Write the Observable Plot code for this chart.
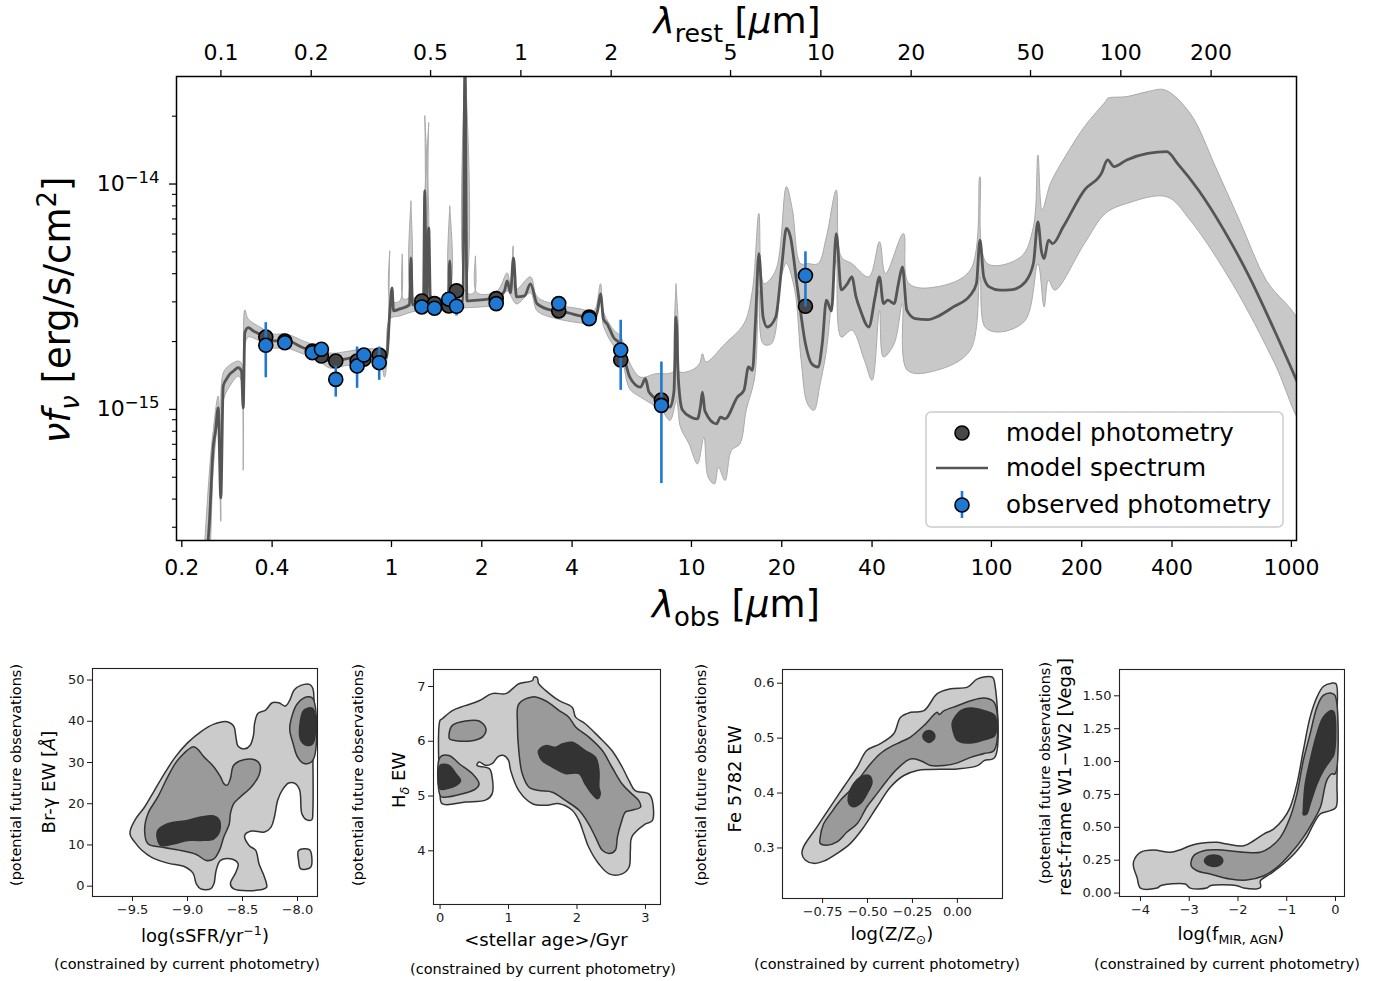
<!DOCTYPE html>
<html><head><meta charset="utf-8">
<script src="https://cdn.jsdelivr.net/npm/d3@7"></script>
<script src="https://cdn.jsdelivr.net/npm/@observablehq/plot@0.6"></script>
<style>
body{margin:0;background:#fff;}
#fig{position:relative;width:1392px;height:981px;overflow:hidden;font-family:"DejaVu Sans",sans-serif;}
</style></head><body><div id="fig"></div>
<script>
// ---------------- main SED data ----------------
const redshift = 1.7;
const obsTicks = [0.2,0.4,1,2,4,10,20,40,100,200,400,1000];
const restTicks = [0.1,0.2,0.5,1,2,5,10,20,50,100,200];
const yMajorTicks = [1e-15,1e-14];
const yMinorTicks = [3e-16,4e-16,5e-16,6e-16,7e-16,8e-16,9e-16,2e-15,3e-15,4e-15,5e-15,6e-15,7e-15,8e-15,9e-15,2e-14];
const fluxUnit = 1e-15; // erg/s/cm2

const specWave = [0.238,0.2473,0.2544,0.259,0.2644,0.2698,0.2748,0.2818,0.2891,0.2974,0.3083,0.3162,0.3204,0.3243,0.3329,0.3467,0.3639,0.3831,0.4034,0.4467,0.5078,0.5623,0.6229,0.6902,0.8047,0.9141,0.9624,0.987,1.004,1.016,1.066,1.148,1.161,1.175,1.212,1.278,1.291,1.308,1.331,1.349,1.457,1.543,1.564,1.585,1.731,1.758,1.785,1.981,2.25,2.38,2.43,2.492,2.551,2.61,2.776,2.906,3.059,3.475,3.852,4.266,4.725,4.862,4.975,5.091,5.236,5.508,5.799,6.229,6.761,7.025,7.216,7.943,8.487,8.745,8.88,9.052,9.333,9.977,10.47,10.72,10.88,11.09,12.12,12.5,12.94,14.23,14.97,15.49,15.97,16.35,16.78,17.33,17.89,19.1,20.04,20.72,21.38,22.46,23.99,25.16,26.42,27.29,28.18,29.29,30.39,31.57,33.11,34.25,35.37,36.59,38.99,40.96,42.34,43.65,45.15,47.39,48.98,50.51,52.24,55.72,61.43,65.58,74.64,84.98,89.13,91.56,94.26,98.33,106.7,117.5,129.7,138,142.9,146.6,149.9,154.9,160.1,173.5,204.2,232.6,244,256.3,282.5,332.1,384.3,416.9,489.8,595.7,724.1,879.7,1072];
const specFlux = [0.1725,0.3189,0.6753,0.8008,1.016,0.4047,1.269,1.363,1.435,1.48,1.531,1.48,1.016,2.183,2.305,2.228,2.154,2.053,2.012,2.012,1.878,1.785,1.639,1.668,1.725,1.725,1.695,2.679,3.46,2.735,2.792,2.908,4.704,2.908,2.938,2.938,9.338,2.969,6.394,2.969,2.969,2.969,4.562,2.969,3.029,35.3,3.029,3.061,3.133,3.357,3.718,3.289,4.704,3.156,3.189,3.606,2.938,2.735,2.688,2.598,2.553,2.735,3.254,2.519,2.394,2.081,1.945,1.391,1.256,1.368,1.194,1.078,1.024,1.206,2.572,1.336,0.993,0.924,0.908,1.034,1.194,0.983,0.863,0.924,0.908,1.134,1.218,1.542,1.49,2.469,4.916,2.572,2.321,2.572,4.437,6.348,5.833,3.616,1.957,1.595,1.542,1.957,3.051,2.735,6.03,3.392,3.616,3.873,3.156,2.754,2.321,3.156,3.873,2.947,3.051,2.947,3.616,4.29,2.754,2.527,2.501,2.572,2.849,3.211,3.616,5.639,3.873,3.497,3.381,3.402,3.68,4.437,6.798,5.089,4.67,5.639,5.445,6.459,9.404,11.15,12.79,11.94,12.79,13.68,13.92,12.35,9.404,6.246,3.873,2.228,1.23];

const bandUpperWave = [0.238,0.2473,0.2544,0.2644,0.2698,0.2748,0.2891,0.3083,0.3162,0.3204,0.3243,0.3329,0.3639,0.4034,0.4467,0.5078,0.5623,0.6229,0.6902,0.8047,0.9141,0.9624,0.9795,0.987,0.9947,1.066,1.086,1.096,1.148,1.161,1.175,1.278,1.291,1.308,1.331,1.349,1.543,1.564,1.585,1.731,1.758,1.785,1.884,1.905,1.928,2.25,2.43,2.492,2.545,2.59,2.906,3.059,3.475,4.266,4.725,4.975,5.091,5.508,5.799,6.229,6.761,7.586,8.745,8.88,9.052,9.977,10.63,10.88,11.18,12.94,14.97,15.97,16.78,17.45,19.1,20.73,21.71,23.09,24.37,26.42,28.18,30.39,31.57,34.25,38.99,42.34,44.35,50.89,53.09,65.58,84.98,91.56,96.75,125.4,138,142.9,147.6,157.3,173.5,204.2,239.9,244,282.5,332.1,378.2,459.5,558.1,678.3,824.1,1072];
const bandUpperFlux = [0.2469,0.5318,0.8008,1.146,0.7229,1.45,1.574,1.639,1.606,1.336,2.763,2.519,2.321,2.161,2.161,2.012,1.911,1.779,1.797,1.854,1.854,1.834,3.029,5.053,3.029,3.029,4.9,3.092,3.156,8.429,3.156,3.156,20.12,3.221,18.73,3.221,3.221,8.009,3.221,3.289,35.3,3.289,3.289,4.801,3.289,3.357,4.035,3.532,5.318,3.392,3.873,3.156,2.938,2.792,2.735,3.606,2.706,2.251,2.117,1.606,1.391,1.439,1.48,3.616,1.48,1.49,1.595,1.767,1.623,1.957,2.401,3.381,7.403,3.616,4.148,9.727,7.664,4.437,4.437,4.437,5.833,9.404,4.753,4.437,3.873,5.541,4.006,6.03,3.616,3.497,4.148,10.78,4.437,4.753,6.459,13.46,7.664,10.06,12.79,17.97,23.22,24.01,24.43,25.71,26.17,20.6,11.94,6.681,3.744,2.35];
const bandLowerWave = [0.238,0.2473,0.2544,0.2644,0.2698,0.2748,0.2891,0.3083,0.3162,0.3204,0.3243,0.3329,0.3639,0.4034,0.4467,0.5078,0.5623,0.6229,0.6902,0.8047,0.9141,0.9477,0.9624,0.987,1.066,1.212,1.457,1.731,1.981,2.25,2.43,2.61,2.906,3.059,3.475,4.266,4.725,4.975,5.091,5.508,5.799,6.229,6.761,7.943,8.487,8.913,9.191,9.817,10.47,11.0,11.37,11.93,12.3,12.94,13.59,14.5,15.22,16.25,16.78,17.33,18.48,20.04,20.72,22.1,23.21,24.37,25.59,26.85,28.18,30.39,31.57,34.25,37.72,40.02,42.34,43.65,47.39,50.51,52.48,65.58,84.98,91.56,95.21,106.7,129.7,142.9,149.9,154.9,162.7,204.2,239.9,282.5,384.3,459.5,635.8,879.7,1072];
const bandLowerFlux = [0.1406,0.2118,0.5318,0.887,0.3189,1.089,1.269,1.406,1.336,0.5373,1.911,2.095,2.012,1.873,1.873,1.761,1.673,1.526,1.557,1.606,1.606,1.391,1.557,2.519,2.598,2.735,2.735,2.82,2.849,2.938,3.357,2.938,3.289,2.735,2.546,2.419,2.394,3.029,2.345,1.911,1.779,1.231,1.134,0.99,0.894,1.089,0.834,0.703,0.573,0.753,0.5002,0.467,0.5541,0.4835,0.6574,0.703,0.99,1.391,3.381,1.957,1.957,4.006,4.437,3.381,1.651,1.059,0.99,1.299,1.829,4.594,2.095,2.245,1.651,1.346,2.754,1.708,1.957,2.947,1.49,1.49,1.829,3.873,2.321,2.206,2.486,4.437,2.849,3.744,3.381,5.445,7.403,8.199,8.781,6.918,3.616,1.6,0.89];

const photWave = [0.381,0.441,0.545,0.584,0.652,0.768,0.809,0.910,1.262,1.391,1.552,1.647,2.234,3.611,4.560,5.81,7.94,23.99];
const obsFlux  = [1.925,1.977,1.785,1.848,1.359,1.557,1.743,1.611,2.849,2.811,3.082,2.869,2.947,2.947,2.527,1.834,1.042,3.925];
const obsLow   = [1.382,1.92,1.74,1.80,1.134,1.240,1.70,1.346,2.78,2.74,3.0,2.598,2.87,2.87,2.46,1.215,0.469,2.849];
const obsHigh  = [2.426,2.04,1.83,1.90,1.557,1.892,1.79,1.892,2.92,2.88,3.16,3.029,3.02,3.02,2.59,2.486,1.623,5.002];
const modelFlux = [2.095,2.012,1.816,1.725,1.639,1.639,1.668,1.743,3.029,2.947,2.878,3.357,3.101,2.735,2.572,1.656,1.100,2.869];

// ---------------- posterior contour data ----------------
const ssfrLight = [[-9.52,13.53],[-9.47,16.37],[-9.39,19.21],[-9.30,23.26],[-9.21,27.31],[-9.11,31.36],[-9.00,34.76],[-8.88,37.44],[-8.76,39.30],[-8.64,39.87],[-8.58,38.82],[-8.56,36.22],[-8.54,33.95],[-8.48,33.31],[-8.43,34.20],[-8.40,36.63],[-8.39,39.47],[-8.36,41.90],[-8.29,42.71],[-8.23,44.49],[-8.17,44.49],[-8.11,43.68],[-8.07,45.14],[-8.03,47.57],[-7.97,48.70],[-7.89,48.95],[-7.86,47.97],[-7.86,32.98],[-7.86,18.40],[-7.87,16.13],[-7.92,16.13],[-7.96,17.59],[-7.98,23.26],[-8.02,24.88],[-8.08,25.04],[-8.14,23.26],[-8.18,20.83],[-8.21,16.77],[-8.24,14.34],[-8.30,13.13],[-8.42,13.37],[-8.48,12.32],[-8.44,9.89],[-8.38,8.67],[-8.35,5.43],[-8.30,2.19],[-8.28,-0.24],[-8.32,-0.81],[-8.58,-0.65],[-8.61,0.57],[-8.56,3.40],[-8.54,5.43],[-8.61,6.65],[-8.70,6.24],[-8.74,3.81],[-8.76,0.57],[-8.79,-0.65],[-8.88,-0.65],[-8.92,0.57],[-8.95,3.16],[-9.03,4.78],[-9.18,5.59],[-9.33,7.05],[-9.42,8.83],[-9.48,10.70],[-9.52,12.32]];
const ssfrLightIsland = [[-7.99,8.67],[-7.89,8.83],[-7.87,7.05],[-7.88,4.62],[-7.97,4.21],[-7.99,6.24]];
const ssfrMid = [[-9.36,17.59],[-9.27,21.64],[-9.18,26.50],[-9.09,30.54],[-8.94,33.79],[-8.85,31.36],[-8.76,28.93],[-8.70,26.50],[-8.67,24.88],[-8.64,24.47],[-8.61,26.09],[-8.58,29.34],[-8.48,30.71],[-8.38,30.54],[-8.34,29.34],[-8.35,26.90],[-8.42,24.07],[-8.52,21.64],[-8.58,20.02],[-8.61,17.59],[-8.62,15.15],[-8.67,11.91],[-8.71,8.67],[-8.76,6.65],[-8.83,6.24],[-8.92,7.70],[-9.06,8.67],[-9.24,9.48],[-9.36,10.29],[-9.39,13.53]];
const ssfrMidTop = [[-8.06,40.28],[-8.00,44.33],[-7.91,45.95],[-7.86,45.54],[-7.86,30.54],[-7.94,29.74],[-8.00,31.36],[-8.04,34.60],[-8.07,37.84]];
const ssfrDark = [[-9.27,11.10],[-9.27,13.53],[-9.18,15.15],[-9.00,15.96],[-8.88,16.77],[-8.76,17.02],[-8.71,15.96],[-8.71,13.13],[-8.76,11.51],[-8.88,11.10],[-9.00,11.10],[-9.12,10.29],[-9.24,9.89]];
const ssfrDarkTop = [[-7.98,38.65],[-7.94,42.71],[-7.86,43.11],[-7.86,34.60],[-7.92,34.20],[-7.97,35.41]];

const ageLight = [[0,6.38],[0.03,6.41],[0.18,6.56],[0.37,6.65],[0.57,6.74],[0.76,6.87],[0.96,6.87],[1.06,6.96],[1.15,7.05],[1.35,7.11],[1.37,7.17],[1.42,7.16],[1.44,7.05],[1.54,6.93],[1.74,6.74],[1.93,6.62],[1.98,6.44],[2.12,6.32],[2.32,6.08],[2.51,5.83],[2.66,5.53],[2.76,5.28],[2.85,5.10],[3.05,5.04],[3.10,4.92],[3.10,4.55],[3.00,4.49],[2.80,4.25],[2.78,4.01],[2.76,3.70],[2.66,3.58],[2.47,3.58],[2.32,3.76],[2.17,4.07],[2.10,4.31],[2.03,4.55],[1.93,4.74],[1.74,4.86],[1.54,4.83],[1.35,4.86],[1.15,5.10],[1.03,5.47],[1.00,5.65],[0.93,5.74],[0.85,5.72],[0.76,5.59],[0.67,5.56],[0.57,5.62],[0.54,5.56],[0.72,5.50],[0.76,5.35],[0.76,5.04],[0.67,4.93],[0.37,4.89],[0.03,4.86],[0,5.10]];
const ageMidTopLeft = [[0.13,6.11],[0.18,6.29],[0.37,6.37],[0.57,6.37],[0.67,6.23],[0.62,6.08],[0.47,6.01],[0.23,6.01],[0.14,6.04]];
const ageMidLeft = [[0,5.71],[0.13,5.74],[0.28,5.59],[0.47,5.41],[0.57,5.22],[0.52,5.13],[0.33,5.04],[0.03,4.98],[0,5.01]];
const ageMidRight = [[1.15,6.68],[1.35,6.81],[1.54,6.74],[1.74,6.56],[1.88,6.44],[1.98,6.26],[2.17,6.08],[2.37,5.83],[2.51,5.53],[2.66,5.22],[2.80,5.04],[2.90,4.92],[2.93,4.80],[2.80,4.74],[2.71,4.71],[2.64,4.49],[2.59,4.25],[2.56,4.01],[2.47,3.95],[2.37,4.01],[2.27,4.25],[2.17,4.49],[2.03,4.74],[1.83,4.92],[1.64,5.07],[1.44,5.10],[1.30,5.16],[1.20,5.41],[1.15,5.83],[1.13,6.32]];
const ageDarkLeft = [[0,5.56],[0.13,5.56],[0.23,5.41],[0.30,5.28],[0.23,5.19],[0.08,5.13],[0,5.13]];
const ageDarkRight = [[1.44,5.83],[1.54,5.92],[1.69,5.89],[1.78,5.95],[1.93,5.98],[2.12,5.83],[2.27,5.71],[2.32,5.47],[2.32,5.16],[2.34,5.04],[2.30,4.95],[2.22,5.04],[2.12,5.22],[2.03,5.41],[1.83,5.41],[1.64,5.53],[1.49,5.65],[1.44,5.77]];

const metLight = [[-0.856,0.302],[-0.782,0.338],[-0.707,0.375],[-0.633,0.411],[-0.558,0.447],[-0.503,0.478],[-0.428,0.490],[-0.354,0.508],[-0.316,0.538],[-0.261,0.547],[-0.186,0.550],[-0.112,0.581],[-0.037,0.590],[0.056,0.593],[0.112,0.608],[0.195,0.611],[0.208,0.599],[0.208,0.465],[0.149,0.459],[0.112,0.450],[0,0.444],[-0.149,0.443],[-0.223,0.441],[-0.298,0.432],[-0.372,0.411],[-0.447,0.375],[-0.521,0.338],[-0.596,0.308],[-0.670,0.290],[-0.744,0.276],[-0.800,0.272],[-0.847,0.278],[-0.865,0.290]];
const metMid = [[-0.763,0.320],[-0.744,0.344],[-0.707,0.362],[-0.651,0.387],[-0.596,0.405],[-0.540,0.429],[-0.484,0.453],[-0.428,0.472],[-0.372,0.484],[-0.316,0.493],[-0.261,0.502],[-0.186,0.523],[-0.112,0.547],[-0.102,0.543],[-0.074,0.550],[0,0.559],[0.074,0.568],[0.149,0.573],[0.205,0.565],[0.205,0.478],[0.149,0.472],[0.074,0.465],[0,0.455],[-0.074,0.450],[-0.149,0.450],[-0.205,0.459],[-0.261,0.462],[-0.335,0.444],[-0.391,0.423],[-0.447,0.399],[-0.503,0.375],[-0.558,0.344],[-0.614,0.329],[-0.670,0.311],[-0.726,0.305],[-0.763,0.308]];
const metDarkLow = [[-0.607,0.393],[-0.577,0.417],[-0.540,0.429],[-0.493,0.432],[-0.475,0.420],[-0.503,0.399],[-0.540,0.381],[-0.577,0.375],[-0.603,0.381]];
const metDarkSpot = [[-0.192,0.503],[-0.181,0.511],[-0.158,0.514],[-0.136,0.511],[-0.125,0.503],[-0.136,0.496],[-0.158,0.492],[-0.181,0.496]];
const metDarkHigh = [[-0.028,0.529],[0.019,0.550],[0.074,0.555],[0.149,0.550],[0.208,0.541],[0.208,0.505],[0.149,0.497],[0.074,0.491],[0,0.496],[-0.022,0.511]];

const agnLight = [[-4.14,0.241],[-4.00,0.310],[-3.73,0.327],[-3.39,0.310],[-3.18,0.330],[-2.98,0.360],[-2.77,0.378],[-2.43,0.386],[-2.23,0.373],[-1.88,0.360],[-1.68,0.398],[-1.47,0.449],[-1.27,0.487],[-1.07,0.563],[-0.93,0.652],[-0.79,0.830],[-0.66,1.084],[-0.52,1.338],[-0.38,1.490],[-0.25,1.571],[-0.08,1.596],[0.01,1.591],[0.03,1.338],[0.03,0.830],[0.01,0.652],[-0.11,0.627],[-0.31,0.602],[-0.45,0.525],[-0.59,0.424],[-0.79,0.322],[-1.07,0.221],[-1.34,0.145],[-1.54,0.094],[-1.54,0.043],[-1.88,0.038],[-2.02,0.056],[-2.57,0.056],[-2.64,0.038],[-2.98,0.038],[-3.08,0.069],[-3.39,0.069],[-3.59,0.056],[-3.66,0.038],[-4.00,0.038],[-4.07,0.119],[-4.14,0.195]];
const agnMid = [[-2.96,0.208],[-2.91,0.284],[-2.70,0.322],[-2.43,0.330],[-1.88,0.310],[-1.54,0.310],[-1.34,0.348],[-1.13,0.424],[-0.93,0.576],[-0.79,0.754],[-0.66,1.008],[-0.52,1.211],[-0.38,1.414],[-0.25,1.503],[-0.08,1.520],[-0.01,1.503],[-0.01,0.906],[-0.08,0.906],[-0.18,0.855],[-0.31,0.652],[-0.45,0.551],[-0.66,0.424],[-0.93,0.297],[-1.20,0.195],[-1.47,0.132],[-1.82,0.099],[-2.16,0.107],[-2.57,0.145],[-2.84,0.170]];
const agnDarkLow = [[-2.69,0.246],[-2.63,0.277],[-2.50,0.289],[-2.36,0.277],[-2.31,0.246],[-2.36,0.216],[-2.50,0.203],[-2.63,0.216]];
const agnDarkHigh = [[-0.66,0.627],[-0.62,0.830],[-0.52,1.008],[-0.38,1.211],[-0.25,1.338],[-0.08,1.388],[-0.03,1.376],[-0.03,1.058],[-0.11,1.008],[-0.25,0.931],[-0.38,0.830],[-0.52,0.678],[-0.59,0.602],[-0.66,0.596]];

// ---------------- helpers ----------------
const fig = document.getElementById("fig");
const FONT = "DejaVu Sans";
const minus = s => String(s).replace("-", "−");

function place(el, left, top) {
  el.style.position = "absolute";
  el.style.left = left + "px";
  el.style.top = top + "px";
  el.style.maxWidth = "none";
  fig.appendChild(el);
}
function richText(sel, x, y, parts, size, opts = {}) {
  const t = sel.append("text").attr("x", x).attr("y", y).attr("font-size", size)
    .attr("font-family", FONT).attr("text-anchor", opts.anchor || "middle").attr("fill", "black");
  if (opts.rotate) t.attr("transform", `rotate(-90 ${x} ${y})`);
  let shift = 0;
  for (const p of parts) {
    const s = t.append("tspan").text(p.t);
    const target = p.sub ? size * 0.24 : p.sup ? -size * 0.38 : 0;
    if (target !== shift) { s.attr("dy", target - shift); shift = target; }
    if (p.sub || p.sup) s.attr("font-size", size * 0.7);
    if (p.i) s.attr("font-style", "italic");
  }
  return t;
}

// ---------------- main SED panel ----------------
const spec = specWave.map((w, i) => ({w, f: specFlux[i] * fluxUnit}));
const band = [
  ...bandUpperWave.map((w, i) => ({w, f: bandUpperFlux[i] * fluxUnit})),
  ...bandLowerWave.map((w, i) => ({w, f: bandLowerFlux[i] * fluxUnit})).reverse()
];
const phot = photWave.map((w, i) => ({
  w, obs: obsFlux[i] * fluxUnit, lo: obsLow[i] * fluxUnit, hi: obsHigh[i] * fluxUnit, mod: modelFlux[i] * fluxUnit
}));
const opz = 1 + redshift;
const blue = "#1f78d2";

const main = Plot.plot({
  width: 1392, height: 640,
  marginLeft: 176, marginRight: 96, marginTop: 76, marginBottom: 100,
  style: {fontFamily: FONT, fontSize: "22px", color: "black", background: "white"},
  x: {type: "log", domain: [0.192, 1040]},
  y: {type: "log", domain: [2.62e-16, 3.0e-14]},
  marks: [
    Plot.line(band, {x: "w", y: "f", fill: "#c8c8c8", stroke: "#aaaaaa", strokeWidth: 1, curve: "catmull-rom", clip: true}),
    Plot.line(spec, {x: "w", y: "f", stroke: "#555555", strokeWidth: 2.8, curve: "monotone-x", clip: true}),
    Plot.dot(phot, {x: "w", y: "mod", r: 7, fill: "#474747", stroke: "black", strokeWidth: 1.6}),
    Plot.ruleX(phot, {x: "w", y1: "lo", y2: "hi", stroke: blue, strokeWidth: 2.6}),
    Plot.dot(phot, {x: "w", y: "obs", r: 7, fill: blue, stroke: "black", strokeWidth: 1.6}),
    Plot.frame({stroke: "black", strokeWidth: 1.5}),
    Plot.axisX({anchor: "bottom", ticks: obsTicks, tickFormat: () => "", tickSize: 7, label: null, strokeWidth: 1.3}),
    Plot.text(obsTicks, {x: d => d, text: d => String(d), frameAnchor: "bottom", lineAnchor: "middle", dy: 27, fontSize: 22}),
    Plot.axisX({anchor: "top", ticks: restTicks.map(r => r * opz), tickFormat: () => "", tickSize: 7, label: null, strokeWidth: 1.3}),
    Plot.text(restTicks, {x: r => r * opz, text: r => String(r), frameAnchor: "top", lineAnchor: "middle", dy: -24, fontSize: 22}),
    Plot.axisY({anchor: "left", ticks: yMajorTicks, tickFormat: d => "10^" + Math.round(Math.log10(d)), tickSize: 7, tickPadding: 10, label: null, strokeWidth: 1.3}),
    Plot.axisY({anchor: "left", ticks: yMinorTicks, tickFormat: () => "", tickSize: 4, label: null, strokeWidth: 1.1})
  ]
});
place(main, 0, 0);
{
  const s = d3.select(main);
  // render the power-of-ten tick labels with a raised exponent
  s.selectAll("text").each(function () {
    const txt = this.textContent;
    if (!/^10\^-?\d+$/.test(txt)) return;
    const exp = txt.slice(3).replace("-", "−");
    const el = d3.select(this);
    el.text(null);
    el.append("tspan").text("10");
    el.append("tspan").attr("dy", -8).attr("font-size", 16.5).text(exp);
  });
  richText(s, 736, 617, [{t: "λ", i: 1}, {t: "obs", sub: 1}, {t: " ["}, {t: "µ", i: 1}, {t: "m]"}], 37);
  richText(s, 737, 33, [{t: "λ", i: 1}, {t: "rest", sub: 1}, {t: " ["}, {t: "µ", i: 1}, {t: "m]"}], 36);
  richText(s, 70, 310, [{t: "ν", i: 1}, {t: "f", i: 1}, {t: "ν", sub: 1, i: 1}, {t: " [erg/s/cm"}, {t: "2", sup: 1}, {t: "]"}], 37, {rotate: true});
  // legend
  const lg = s.append("g");
  lg.append("rect").attr("x", 926).attr("y", 412).attr("width", 357).attr("height", 115).attr("rx", 5)
    .attr("fill", "white").attr("fill-opacity", 0.85).attr("stroke", "#cccccc").attr("stroke-width", 1.5);
  lg.append("circle").attr("cx", 962).attr("cy", 433).attr("r", 7).attr("fill", "#474747").attr("stroke", "black").attr("stroke-width", 1.6);
  lg.append("line").attr("x1", 936).attr("x2", 988).attr("y1", 468).attr("y2", 468).attr("stroke", "#555555").attr("stroke-width", 2.6);
  lg.append("line").attr("x1", 962).attr("x2", 962).attr("y1", 491).attr("y2", 518).attr("stroke", blue).attr("stroke-width", 2.6);
  lg.append("circle").attr("cx", 962).attr("cy", 505).attr("r", 7).attr("fill", blue).attr("stroke", "black").attr("stroke-width", 1.6);
  const texts = ["model photometry", "model spectrum", "observed photometry"];
  [441, 476, 513].forEach((y, i) => lg.append("text").attr("x", 1006).attr("y", y).attr("font-size", 24.5)
    .attr("text-anchor", "start").attr("font-family", FONT).attr("fill", "black").text(texts[i]));
}

// ---------------- posterior panels ----------------
const levelFill = {light: "#cbcbcb", mid: "#9a9a9a", dark: "#333333"};
function makePanel(p) {
  const rows = [];
  p.shapes.forEach((s, k) => s.pts.forEach(([x, y]) => rows.push({x, y, id: k, level: s.level})));
  const marks = ["light", "mid", "dark"].map(lev =>
    Plot.line(rows.filter(d => d.level === lev), {x: "x", y: "y", z: "id", fill: levelFill[lev], stroke: "#333333", strokeWidth: 1.5, curve: "catmull-rom-closed", clip: true}));
  marks.push(Plot.frame({stroke: "#222", strokeWidth: 1.1}));
  marks.push(Plot.axisX({anchor: "bottom", ticks: p.xticks, tickFormat: p.xfmt, tickSize: 5, tickPadding: 3, label: null}));
  marks.push(Plot.axisY({anchor: "left", ticks: p.yticks, tickFormat: p.yfmt, tickSize: 5, tickPadding: 3, label: null}));
  const el = Plot.plot({
    width: p.w, height: 341,
    marginLeft: p.ml, marginRight: p.mr, marginTop: p.mt, marginBottom: p.mb,
    style: {fontFamily: FONT, fontSize: "13px", color: "#1a1a1a", background: "white"},
    x: {domain: p.xdom}, y: {domain: p.ydom},
    marks
  });
  place(el, p.left, 640);
  const s = d3.select(el);
  richText(s, p.xl[0], p.xl[1], p.xlabel, 18);
  richText(s, p.cap[0], p.cap[1], [{t: "(constrained by current photometry)"}], 14.5);
  richText(s, p.yl[0], p.yl[1], p.ylabel, 18, {rotate: true});
  richText(s, p.pot[0], p.pot[1], [{t: "(potential future observations)"}], 14.5, {rotate: true});
}

makePanel({
  left: 0, w: 345, ml: 92, mr: 28, mt: 28, mb: 85,
  xdom: [-9.864, -7.818], ydom: [-2.5, 52.8],
  xticks: [-9.5, -9.0, -8.5, -8.0], xfmt: d => minus(d.toFixed(1)),
  yticks: [0, 10, 20, 30, 40, 50], yfmt: d => String(d),
  shapes: [
    {level: "light", pts: ssfrLight}, {level: "light", pts: ssfrLightIsland},
    {level: "mid", pts: ssfrMid}, {level: "mid", pts: ssfrMidTop},
    {level: "dark", pts: ssfrDark}, {level: "dark", pts: ssfrDarkTop}
  ],
  xlabel: [{t: "log(sSFR/yr"}, {t: "−1", sup: 1}, {t: ")"}], xl: [205, 302], cap: [187, 329],
  ylabel: [{t: "Br-γ EW ["}, {t: "Å", i: 1}, {t: "]"}], yl: [55, 142], pot: [21, 135]
});
makePanel({
  left: 345, w: 345, ml: 88, mr: 30, mt: 29, mb: 77,
  xdom: [-0.096, 3.22], ydom: [3.02, 7.31],
  xticks: [0, 1, 2, 3], xfmt: d => String(d),
  yticks: [4, 5, 6, 7], yfmt: d => String(d),
  shapes: [
    {level: "light", pts: ageLight},
    {level: "mid", pts: ageMidTopLeft}, {level: "mid", pts: ageMidLeft}, {level: "mid", pts: ageMidRight},
    {level: "dark", pts: ageDarkLeft}, {level: "dark", pts: ageDarkRight}
  ],
  xlabel: [{t: "<stellar age>/Gyr"}], xl: [201, 306], cap: [198, 334],
  ylabel: [{t: "H"}, {t: "δ", sub: 1, i: 1}, {t: " EW"}], yl: [60, 140], pot: [18, 135]
});
makePanel({
  left: 690, w: 345, ml: 92, mr: 33, mt: 29, mb: 83,
  xdom: [-0.973, 0.251], ydom: [0.208, 0.625],
  xticks: [-0.75, -0.5, -0.25, 0], xfmt: d => minus(d.toFixed(2)),
  yticks: [0.3, 0.4, 0.5, 0.6], yfmt: d => d.toFixed(1),
  shapes: [
    {level: "light", pts: metLight},
    {level: "mid", pts: metMid},
    {level: "dark", pts: metDarkLow}, {level: "dark", pts: metDarkSpot}, {level: "dark", pts: metDarkHigh}
  ],
  xlabel: [{t: "log(Z/Z"}, {t: "⊙", sub: 1}, {t: ")"}], xl: [202, 300], cap: [197, 329],
  ylabel: [{t: "Fe 5782 EW"}], yl: [51, 139], pot: [16, 135]
});
makePanel({
  left: 1035, w: 357, ml: 84, mr: 48, mt: 29, mb: 85,
  xdom: [-4.43, 0.185], ydom: [-0.026, 1.70],
  xticks: [-4, -3, -2, -1, 0], xfmt: d => minus(String(d)),
  yticks: [0, 0.25, 0.5, 0.75, 1.0, 1.25, 1.5], yfmt: d => d.toFixed(2),
  shapes: [
    {level: "light", pts: agnLight},
    {level: "mid", pts: agnMid},
    {level: "dark", pts: agnDarkLow}, {level: "dark", pts: agnDarkHigh}
  ],
  xlabel: [{t: "log(f"}, {t: "MIR, AGN", sub: 1}, {t: ")"}], xl: [196, 300], cap: [192, 329],
  ylabel: [{t: "rest-frame W1−W2 [Vega]"}], yl: [36, 137], pot: [15, 133]
});
</script></body></html>
